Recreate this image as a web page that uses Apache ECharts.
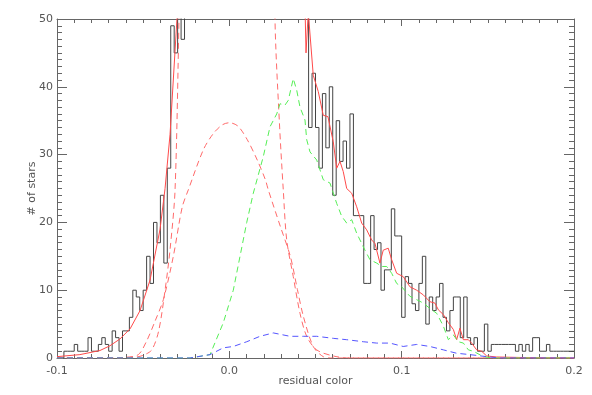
<!DOCTYPE html>
<html>
<head>
<meta charset="utf-8">
<script src="https://cdn.jsdelivr.net/npm/echarts@6/dist/echarts.min.js"></script>
<style>
html,body{margin:0;padding:0;background:#fff;}
#chart{width:592px;height:395px;}
</style>
</head>
<body>
<div id="chart"></div>
<script>
// histogram: bins of 0.002 starting at -0.1 (counts above 50 are clipped in the plot)
var binStart = -0.1;
var binWidth = 0.002;
var histCounts = [
  0, 0, 1, 1, 1, 2, 1, 1, 1, 3,
  1, 1, 2, 3, 2, 1, 4, 3, 1, 4,
  4, 6, 10, 9, 7, 10, 15, 11, 20, 17,
  24, 14, 28, 49, 45, 55, 47, 60, 75, 100,
  140, 180, 230, 290, 350, 410, 460, 510, 540, 560,
  570, 560, 540, 500, 450, 400, 340, 280, 230, 180,
  140, 110, 90, 75, 70, 62, 58, 60, 55, 57,
  53, 56, 60, 34, 42, 34, 28, 39, 31, 40,
  24, 35, 29, 32, 28, 36, 21, 21, 21, 11,
  11, 21, 16, 17, 10, 13, 13, 22, 18, 18,
  6, 12, 11, 8, 7, 11, 15, 5, 9, 7,
  9, 11, 6, 4, 7, 9, 9, 3, 9, 3,
  2, 3, 1, 1, 5, 1, 2, 2, 2, 2,
  2, 2, 2, 1, 2, 1, 2, 1, 3, 3,
  1, 1, 2, 1, 1, 1, 1, 1, 1, 1
];

// total model (red solid)
var totalX = [-0.100, -0.0867, -0.0751, -0.0693, -0.0635, -0.0576, -0.0518, -0.046, -0.0402, -0.0373,
  -0.0344, -0.0304, -0.025, -0.020, -0.015, -0.010, -0.005, 0.000, 0.005, 0.010,
  0.015, 0.020, 0.025, 0.030, 0.035, 0.040, 0.0439, 0.0445, 0.0458, 0.0487,
  0.0516, 0.0545, 0.0572, 0.0603, 0.0623, 0.0642, 0.0661, 0.0681, 0.071, 0.0739,
  0.0768, 0.0797, 0.0826, 0.0845, 0.0874, 0.0893, 0.0922, 0.0942, 0.0971, 0.1009,
  0.1048, 0.1087, 0.1126, 0.1164, 0.1193, 0.1213, 0.1242, 0.1271, 0.130, 0.1319,
  0.1338, 0.1358, 0.1387, 0.1406, 0.1435, 0.1464, 0.1493, 0.1551, 0.1745, 0.200];
var totalY = [0.2, 0.5, 1.1, 1.8, 2.8, 4.3, 7, 11.5, 19, 25,
  33, 50, 85, 180, 300, 420, 530, 570, 535, 430,
  300, 190, 110, 75, 62, 55, 52, 45, 51, 41.7,
  39.3, 35.8, 35.6, 31.9, 28, 29, 27.5, 25, 24.3, 22.3,
  19.9, 18.9, 17.4, 16.9, 14, 15.9, 16.2, 14.5, 12.5, 12,
  10.5, 10, 9.3, 8.3, 8.1, 7.1, 6.4, 5.2, 4.2, 2.7,
  4.4, 2.7, 2.7, 2.2, 1.2, 1, 0.3, 0.15, 0.05, 0];

// narrow component (red dashed)
var narrowX = [-0.100, -0.065, -0.055, -0.050, -0.045, -0.041, -0.0373, -0.0344, -0.0315, -0.0292,
  -0.025, -0.020, -0.015, -0.010, -0.005, 0.000, 0.005, 0.010, 0.015, 0.020,
  0.0265, 0.029, 0.0313, 0.0333, 0.0371, 0.041, 0.0449, 0.0507, 0.0603, 0.070, 0.200];
var narrowY = [0, 0, 0.1, 0.4, 1.2, 4, 10, 16, 24.8, 50,
  100, 180, 300, 420, 510, 540, 510, 420, 300, 180,
  50, 35, 24.8, 17.4, 12, 6.6, 3.2, 1.2, 0.3, 0, 0];

// broad component (red dashed)
var broadX = [-0.100, -0.065, -0.060, -0.0528, -0.048, -0.043, -0.0383, -0.0325, -0.0273, -0.0238,
  -0.0151, -0.0093, -0.004, 0.000, 0.005, 0.0104, 0.0162, 0.0209, 0.0226, 0.0296,
  0.0354, 0.0395, 0.043, 0.0487, 0.0545, 0.060, 0.200];
var broadY = [0, 0, 0.1, 0.5, 2.5, 5.5, 8.6, 15, 22.3, 24.8,
  30.7, 33.1, 34.4, 34.7, 34.2, 32.2, 29.2, 26.3, 24.8, 19.4,
  15, 10.1, 6.1, 1.7, 0.2, 0, 0];

// green component
var greenX = [-0.100, -0.0228, -0.0112, -0.0035, 0.0023, 0.0062, 0.0101, 0.0139, 0.0197, 0.0236,
  0.0275, 0.0294, 0.0323, 0.0342, 0.0371, 0.0391, 0.041, 0.0439, 0.0449, 0.0468,
  0.0507, 0.0545, 0.0584, 0.0623, 0.0652, 0.0681, 0.071, 0.0739, 0.0768, 0.0787,
  0.0816, 0.0855, 0.0884, 0.0913, 0.0942, 0.0971, 0.100, 0.1048, 0.1087, 0.1126,
  0.1164, 0.1203, 0.1242, 0.1271, 0.130, 0.1329, 0.1358, 0.1387, 0.1416, 0.1474,
  0.1532, 0.200];
var greenY = [0, 0, 0.5, 5.2, 10, 15, 20, 24.3, 29.7, 34.1,
  36, 37.5, 37.3, 38, 41.2, 39.5, 37, 35.1, 32.2, 30.4,
  29.2, 26.3, 25.8, 22.8, 20.9, 19.9, 20.4, 18.4, 16.9, 15.9,
  14.5, 14, 13.5, 13.5, 12.5, 11, 10.5, 9.1, 8.6, 8.1,
  7.3, 6.6, 4.7, 2.7, 3.4, 2.4, 2.2, 1.2, 1, 0.2,
  0, 0];

// blue component
var blueX = [-0.100, -0.0228, -0.0112, -0.0035, 0.0023, 0.0101, 0.0178, 0.0255, 0.0352, 0.0429,
  0.0507, 0.0603, 0.0681, 0.0777, 0.0855, 0.0932, 0.1009, 0.1087, 0.1164, 0.1242,
  0.1319, 0.1396, 0.1493, 0.157, 0.200];
var blueY = [0, 0, 0.5, 1.5, 1.7, 2.4, 3.2, 3.7, 3.2, 3.2,
  3.2, 2.9, 2.7, 2.4, 2.2, 2.2, 1.7, 2, 1.7, 1.2,
  0.7, 0.5, 0.2, 0, 0];

var xTicks = ['-0.1', '0.0', '0.1', '0.2'];

function pairs(xs, ys) {
  var out = [];
  for (var i = 0; i < xs.length; i++) out.push([xs[i], ys[i]]);
  return out;
}

var histData = [];
for (var i = 0; i < histCounts.length; i++) {
  histData.push([binStart + i * binWidth, histCounts[i]]);
}
histData.push([0.2, histCounts[histCounts.length - 1]]);

var axisCol = '#666';
var txtCol = '#555';
var font = 'DejaVu Sans';

function xAx(pos, showLab) {
  return {
    type: 'value', position: pos, min: -0.1, max: 0.2, interval: 0.1,
    axisLine: {show: true, onZero: false, lineStyle: {color: axisCol, width: 1}},
    axisTick: {show: true, inside: true, length: 7, lineStyle: {color: axisCol}},
    minorTick: {show: true, splitNumber: 10, length: 4, lineStyle: {color: axisCol}},
    splitLine: {show: false},
    axisLabel: {
      show: showLab, margin: 8, color: txtCol, fontFamily: font, fontSize: 11,
      formatter: function (v) { return xTicks[Math.round((v + 0.1) / 0.1)]; }
    },
    name: showLab ? 'residual color' : '',
    nameLocation: 'middle', nameGap: 18, nameMoveOverlap: false,
    nameTextStyle: {color: txtCol, fontFamily: font, fontSize: 11}
  };
}
function yAx(pos, showLab) {
  return {
    type: 'value', position: pos, min: 0, max: 50, interval: 10,
    axisLine: {show: true, onZero: false, lineStyle: {color: axisCol, width: 1}},
    axisTick: {show: true, inside: true, length: 10, lineStyle: {color: axisCol}},
    minorTick: {show: true, splitNumber: 10, length: 5, lineStyle: {color: axisCol}},
    splitLine: {show: false},
    axisLabel: {show: showLab, margin: 4, color: txtCol, fontFamily: font, fontSize: 11},
    name: showLab ? '# of stars' : '',
    nameLocation: 'middle', nameGap: 19, nameRotate: 90, nameMoveOverlap: false,
    nameTextStyle: {color: txtCol, fontFamily: font, fontSize: 11}
  };
}

var dash = [6, 4];
var myChart = echarts.init(document.getElementById('chart'), null, {renderer: 'canvas'});
var option = {
  backgroundColor: '#fff',
  animation: false,
  grid: {left: 57, right: 18, top: 19, bottom: 37, containLabel: false, outerBoundsMode: 'none'},
  xAxis: [xAx('bottom', true), xAx('top', false)],
  yAxis: [yAx('left', true), yAx('right', false)],
  series: [
    {
      name: 'hist', type: 'line', step: 'end', data: histData,
      showSymbol: false, clip: true,
      lineStyle: {color: '#444', width: 1}
    },
    {
      name: 'total', type: 'line', data: pairs(totalX, totalY),
      showSymbol: false, clip: true,
      lineStyle: {color: '#ff4a4a', width: 1}
    },
    {
      name: 'narrow', type: 'line', data: pairs(narrowX, narrowY), smooth: 0.3,
      showSymbol: false, clip: true,
      lineStyle: {color: '#ff6a6a', width: 1, type: dash}
    },
    {
      name: 'broad', type: 'line', data: pairs(broadX, broadY), smooth: 0.3,
      showSymbol: false, clip: true,
      lineStyle: {color: '#ff6a6a', width: 1, type: dash}
    },
    {
      name: 'green', type: 'line', data: pairs(greenX, greenY),
      showSymbol: false, clip: true,
      lineStyle: {color: '#55ee55', width: 1, type: dash}
    },
    {
      name: 'blue', type: 'line', data: pairs(blueX, blueY),
      showSymbol: false, clip: true,
      lineStyle: {color: '#5555ff', width: 1, type: dash}
    }
  ]
};
myChart.setOption(option);
</script>
</body>
</html>
